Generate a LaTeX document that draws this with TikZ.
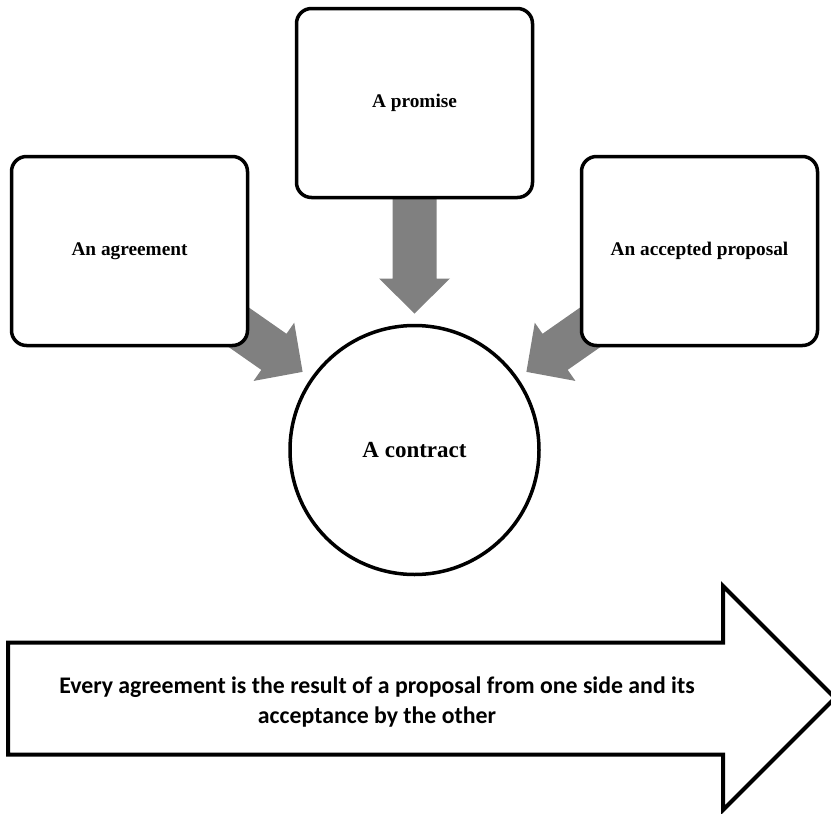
\documentclass[tikz,border=0pt]{standalone}
\usepackage{fontspec}
\setmainfont{Liberation Serif}
\newfontfamily\notefont{Carlito}
\usetikzlibrary{calc,backgrounds}

% Grey block arrow from the centre of #1 to the point #2
\newcommand\flowarrow[2]{%
  \coordinate (hb) at ($(#2)!35pt!(#1)$);
  \fill[flow] ($(#1)!22pt!90:(#2)$) -- ($(hb)!22pt!90:(#2)$)
    -- ($(hb)!35.5pt!90:(#2)$) -- (#2) -- ($(hb)!35.5pt!-90:(#2)$)
    -- ($(hb)!22pt!-90:(#2)$) -- ($(#1)!22pt!-90:(#2)$) -- cycle;}

\begin{document}
\begin{tikzpicture}[x=1pt,y=1pt,
  box/.style={draw, line width=3.5pt, rounded corners=15pt, fill=white,
    minimum width=236pt, minimum height=189pt, inner sep=0pt,
    font=\bfseries\fontsize{19.3}{23}\selectfont},
  hub/.style={circle, draw, line width=3.5pt, fill=white, minimum size=249pt,
    inner sep=0pt, font=\bfseries\fontsize{23}{27}\selectfont},
  flow/.style={fill=black!50, draw=none},
  banner/.style={draw, line width=4pt, fill=white, miter limit=10},
  note/.style={align=center, font=\notefont\bfseries\fontsize{23.8}{29.5}\selectfont}
]
\useasboundingbox (0,0) rectangle (831,-814);
\clip (0,0) rectangle (831,-814);

% the three notions and the contract they lead to
\node[box] (agree)   at (129.5,-251) {An agreement};
\node[box] (promise) at (414.5,-103) {A promise};
\node[box] (accept)  at (699.5,-251) {An accepted proposal};
\node[hub] (contract) at (414.5,-450) {A contract};

% arrow tips stop just short of the circle
\coordinate (tipA) at ($(contract.center)!136.5pt!(agree.center)$);
\coordinate (tipP) at ($(contract.center)!136.5pt!(promise.center)$);
\coordinate (tipC) at ($(contract.center)!136.5pt!(accept.center)$);

\begin{scope}[on background layer]
  \flowarrow{agree.center}{tipA}
  \flowarrow{promise.center}{tipP}
  \flowarrow{accept.center}{tipC}
\end{scope}

% the wide arrow along the bottom
\draw[banner] (8,-642.5) -- (723,-642.5) -- (723,-586) -- (835,-698)
  -- (723,-810) -- (723,-754.5) -- (8,-754.5) -- cycle;
\node[note] (rule) at (377,-702)
  {Every agreement is the result of a proposal from one side and its\\
   acceptance by the other};
\end{tikzpicture}
\end{document}
